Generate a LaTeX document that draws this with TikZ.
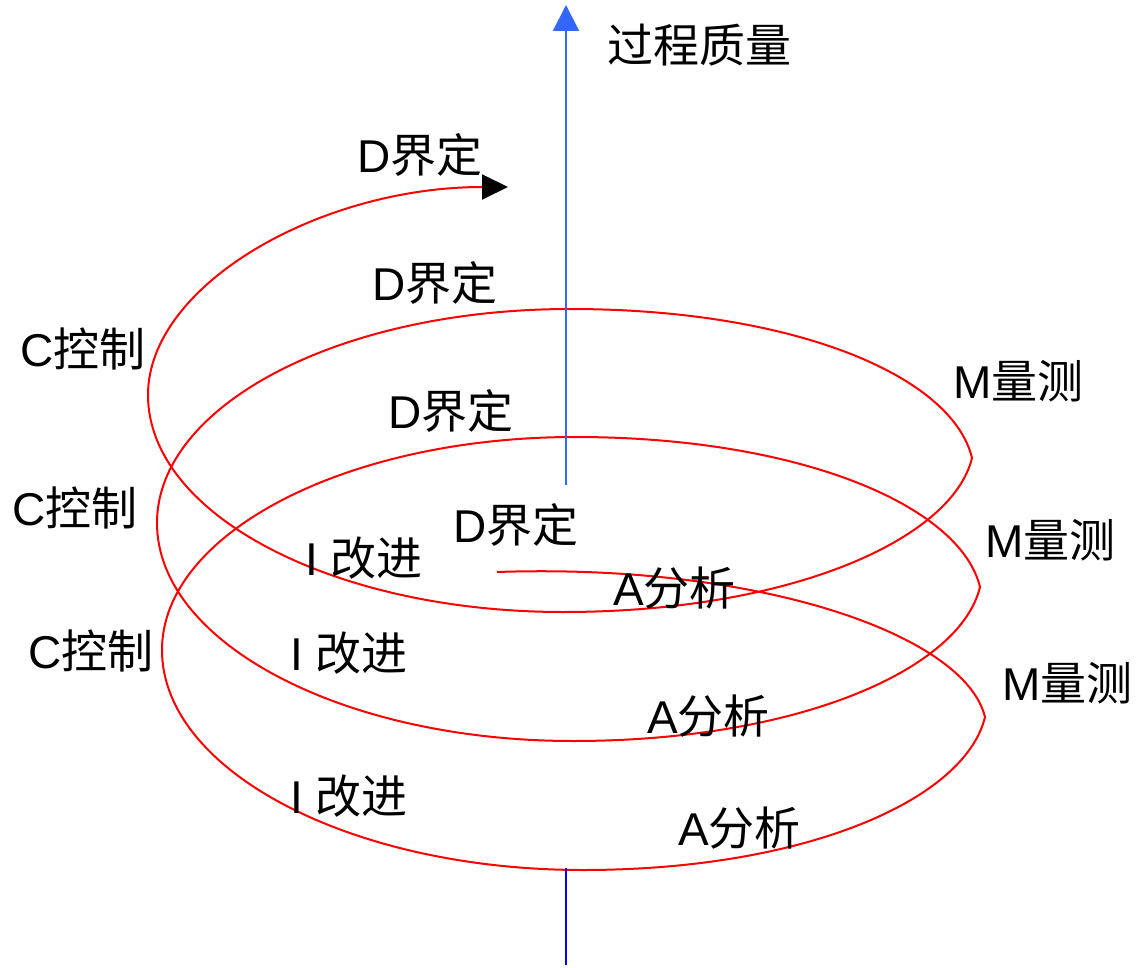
\documentclass[tikz,border=0pt]{standalone}
\usepackage{fontspec}
\setmainfont{Liberation Sans}
\newfontfamily\cjk{Noto Sans CJK SC}
\usetikzlibrary{arrows.meta}
\definecolor{axblue}{RGB}{51,102,255}
\begin{document}
\begin{tikzpicture}[x=1pt,y=-1pt,
  spiral/.style={draw=red, line width=2pt},
  lbl/.style={anchor=base west, inner sep=0pt, font=\fontsize{46}{50}\selectfont},
  axisline/.style={draw=axblue, line width=2pt}]
\useasboundingbox (0,0) rectangle (1137,968);
% spiral key points
\coordinate (s0) at (497,572);
\coordinate (r0) at (985,717);
\coordinate (b0) at (583,870);
\coordinate (l0) at (162,650);
\coordinate (t1) at (575,437);
\coordinate (r1) at (980,587);
\coordinate (b1) at (573,741);
\coordinate (l1) at (157,523);
\coordinate (t2) at (570,309);
\coordinate (r2) at (972,458);
\coordinate (b2) at (563,612);
\coordinate (l2) at (148,395);
\coordinate (e) at (508,187);
\draw[spiral, -{Triangle[length=26pt,width=25pt,color=black,fill=black]}]
 (s0) .. controls (760,563) and (965,635) .. (r0)
 .. controls (965,800) and (805,870) .. (b0)
 .. controls (351,870) and (162,771) .. (l0)
 .. controls (162,533) and (347,437) .. (t1)
 .. controls (798,437) and (960,505) .. (r1)
 .. controls (960,670) and (797,741) .. (b1)
 .. controls (343,741) and (157,643) .. (l1)
 .. controls (157,405) and (340,309) .. (t2)
 .. controls (792,309) and (952,375) .. (r2)
 .. controls (952,540) and (789,612) .. (b2)
 .. controls (334,612) and (148,515) .. (l2)
 .. controls (148,285) and (320,187) .. (e);
% axis
\coordinate (axlow) at (566,485);
\coordinate (axtop) at (566,5);
\coordinate (axb1) at (566,868);
\coordinate (axb2) at (566,965);
\draw[axisline, -{Triangle[length=26pt,width=26pt]}] (axlow) -- (axtop);
\draw[draw=blue, line width=2.5pt] (axb1) -- (axb2);
% labels
\node[lbl] (title) at (607,63) {\cjk 过程质量};
\node[lbl] (d1) at (357,173) {D\cjk 界定};
\node[lbl] (d2) at (372,300) {D\cjk 界定};
\node[lbl] (d3) at (388,428) {D\cjk 界定};
\node[lbl] (d4) at (453,542) {D\cjk 界定};
\node[lbl] (c1) at (20,366) {C\cjk 控制};
\node[lbl] (c2) at (12,525) {C\cjk 控制};
\node[lbl] (c3) at (28,668) {C\cjk 控制};
\node[lbl] (m1) at (953,398) {M\cjk 量测};
\node[lbl] (m2) at (985,557) {M\cjk 量测};
\node[lbl] (m3) at (1002,700) {M\cjk 量测};
\node[lbl] (i1) at (305,575) {I \cjk 改进};
\node[lbl] (i2) at (290,670) {I \cjk 改进};
\node[lbl] (i3) at (290,813) {I \cjk 改进};
\node[lbl] (a1) at (613,605) {A\cjk 分析};
\node[lbl] (a2) at (647,733) {A\cjk 分析};
\node[lbl] (a3) at (678,845) {A\cjk 分析};
\end{tikzpicture}
\end{document}
